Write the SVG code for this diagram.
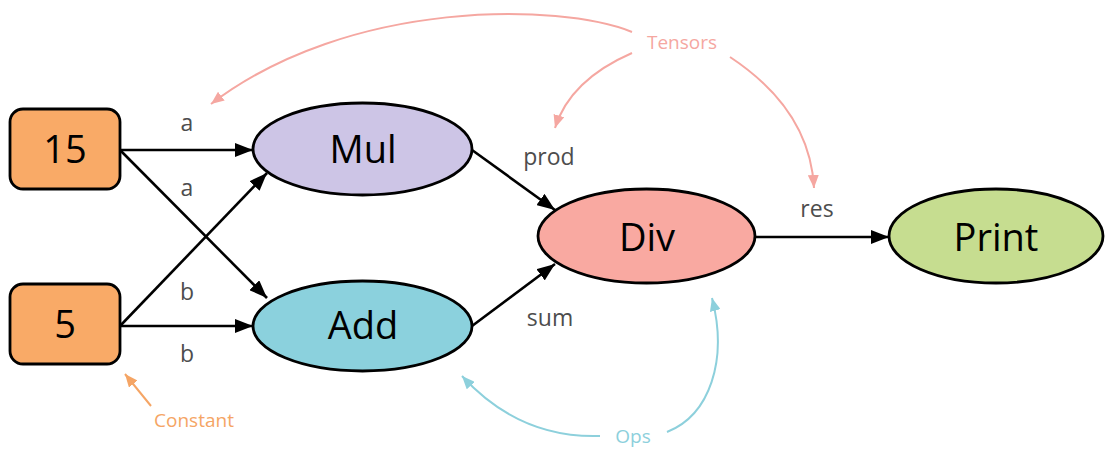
<svg xmlns="http://www.w3.org/2000/svg" width="1105" height="452" viewBox="0 0 1105 452">
  <style>
    .node { stroke: #000; stroke-width: 2.8; }
    .const { fill: #f9aa67; }
    .mul { fill: #cdc5e6; }
    .add { fill: #8bd1dd; }
    .div { fill: #f9a9a1; }
    .print { fill: #c6dd90; }
    .ntext { font-family: "Open Sans", "Noto Sans", sans-serif; font-size: 38px; fill: #000; text-anchor: middle; }
    .edge { fill: none; stroke: #000; stroke-width: 2.6; marker-end: url(#arrow); }
    .elabel { font-family: "Open Sans", "Noto Sans", sans-serif; font-size: 23px; fill: #4d4d4d; text-anchor: middle; }
    .note { fill: none; stroke-width: 2; }
    .tensor { stroke: #f5a7a1; marker-end: url(#arrowPink); }
    .ops { stroke: #8dd0dc; marker-end: url(#arrowCyan); }
    .constant { stroke: #f5a565; marker-end: url(#arrowOrange); }
    .ntitle { font-family: "Open Sans", "Noto Sans", sans-serif; font-size: 19px; text-anchor: middle; }
  </style>
  <defs>
    <marker id="arrow" viewBox="0 0 18 14" refX="18" refY="7" markerWidth="18" markerHeight="14" markerUnits="userSpaceOnUse" orient="auto">
      <path d="M0,0 L18,7 L0,14 Z" fill="#000"/>
    </marker>
    <marker id="arrowPink" viewBox="0 0 13 11" refX="13" refY="5.5" markerWidth="13" markerHeight="11" markerUnits="userSpaceOnUse" orient="auto">
      <path d="M0,0 L13,5.5 L0,11 Z" fill="#f5a7a1"/>
    </marker>
    <marker id="arrowCyan" viewBox="0 0 13 11" refX="13" refY="5.5" markerWidth="13" markerHeight="11" markerUnits="userSpaceOnUse" orient="auto">
      <path d="M0,0 L13,5.5 L0,11 Z" fill="#8dd0dc"/>
    </marker>
    <marker id="arrowOrange" viewBox="0 0 13 11" refX="13" refY="5.5" markerWidth="13" markerHeight="11" markerUnits="userSpaceOnUse" orient="auto">
      <path d="M0,0 L13,5.5 L0,11 Z" fill="#f5a565"/>
    </marker>
  </defs>

  <rect width="1105" height="452" fill="#fff"/>

  <!-- data-flow connectors -->
  <g id="connectors">
    <path class="edge" d="M120,150 L253,150"/>
    <path class="edge" d="M120,150 L267,298"/>
    <path class="edge" d="M120,326 L267,173"/>
    <path class="edge" d="M120,326 L253,326"/>
    <path class="edge" d="M472,150 L555,210"/>
    <path class="edge" d="M472,326 L555,264"/>
    <path class="edge" d="M755,237 L889,237"/>
    <text class="elabel" x="187" y="131">a</text>
    <text class="elabel" x="187" y="196">a</text>
    <text class="elabel" x="187" y="300">b</text>
    <text class="elabel" x="187" y="362">b</text>
    <text class="elabel" x="549" y="165">prod</text>
    <text class="elabel" x="550" y="326">sum</text>
    <text class="elabel" x="817" y="217">res</text>
  </g>

  <!-- nodes -->
  <g id="node-15">
    <rect class="node const" x="10" y="109" width="110" height="80" rx="13"/>
    <text class="ntext" x="65" y="163">15</text>
  </g>
  <g id="node-5">
    <rect class="node const" x="10" y="284" width="110" height="80" rx="13"/>
    <text class="ntext" x="65" y="338">5</text>
  </g>
  <g id="node-mul">
    <ellipse class="node mul" cx="362.5" cy="149" rx="109.5" ry="46"/>
    <text class="ntext" x="363" y="163">Mul</text>
  </g>
  <g id="node-add">
    <ellipse class="node add" cx="362.5" cy="326" rx="109.5" ry="45"/>
    <text class="ntext" x="363" y="339">Add</text>
  </g>
  <g id="node-div">
    <ellipse class="node div" cx="646.5" cy="236" rx="108.5" ry="47"/>
    <text class="ntext" x="647" y="251">Div</text>
  </g>
  <g id="node-print">
    <ellipse class="node print" cx="996" cy="236" rx="107" ry="47"/>
    <text class="ntext" x="996" y="251">Print</text>
  </g>

  <!-- annotations -->
  <g id="annotations">
    <text class="ntitle" x="682" y="49" fill="#f5a7a1">Tensors</text>
    <path class="note tensor" d="M632,32 C560,3 350,-2 211,104"/>
    <path class="note tensor" d="M632,53 Q570,80 555,128"/>
    <path class="note tensor" d="M730,57 Q810,110 814,188"/>

    <text class="ntitle" x="633" y="443" fill="#8dd0dc">Ops</text>
    <path class="note ops" d="M600,436 C540,438 495,412 462,376"/>
    <path class="note ops" d="M667,432 C710,415 728,360 712,298"/>

    <text class="ntitle" x="194" y="427" fill="#f5a565">Constant</text>
    <path class="note constant" d="M151,406 L125,374"/>
  </g>
</svg>
